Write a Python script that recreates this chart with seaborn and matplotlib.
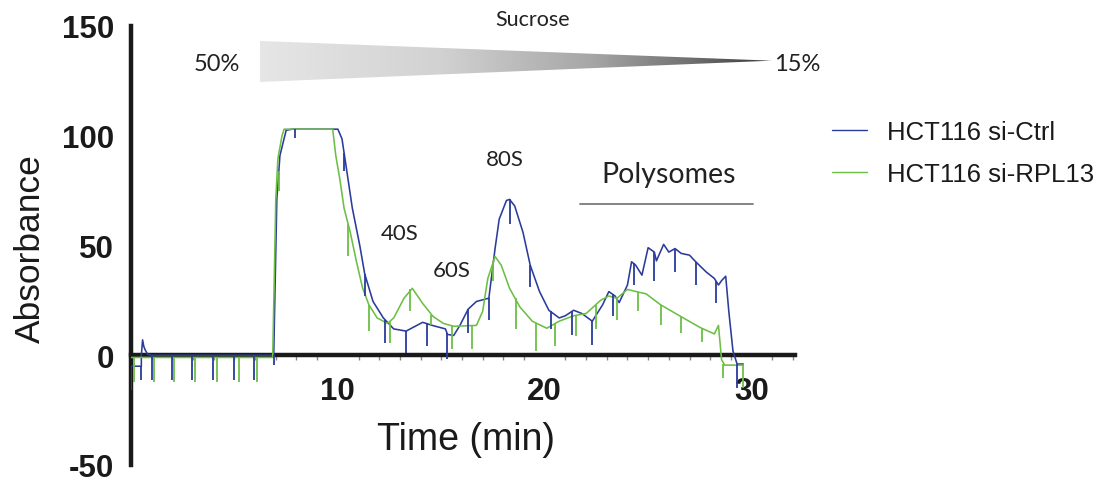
import numpy as np
import pandas as pd
import matplotlib
matplotlib.use("Agg")
import matplotlib.pyplot as plt
import seaborn as sns
from matplotlib.ticker import MultipleLocator, FixedLocator
from matplotlib.colors import LinearSegmentedColormap
from matplotlib.patches import Polygon

# ---------------- data ----------------
series_names = ["HCT116 si-Ctrl", "HCT116 si-RPL13"]

ctrl_time = [0.0, 0.5, 0.5, 0.56, 0.62, 0.68, 0.8, 1.0, 6.9, 7.05, 7.2, 7.5, 7.8,
             10.0, 10.2, 10.4, 10.7, 11.06, 11.3, 11.7, 12.2, 12.7, 13.3, 13.7,
             14.1, 14.6, 15.2, 15.3, 15.6, 15.9, 16.3, 16.7, 17.3, 17.6, 17.8,
             18.15, 18.3, 18.55, 18.95, 19.3, 19.75, 20.2, 20.7, 21.0, 21.4,
             21.8, 22.3, 22.8, 23.1, 23.4, 23.6, 24.0, 24.2, 24.4, 24.7, 25.0,
             25.3, 25.4, 25.75, 26.0, 26.3, 26.6, 27.0, 27.3, 27.8, 28.2, 28.4,
             28.55, 28.75, 28.9, 29.1, 29.3, 29.6]
ctrl_abs = [-5, -5, 0, 7, 4, 2.5, 0.5, 0, 0, 71, 91, 102.5, 103,
            103, 98.6, 86, 67, 50, 37, 24.5, 17, 12, 11, 13,
            15, 13.5, 12, 9.5, 9, 13.6, 21, 24.5, 26, 48.6, 62,
            70.5, 71, 68, 56, 41, 29, 20.5, 17, 18, 20.5,
            19, 15.5, 23, 29, 27, 24, 32, 42.6, 41, 36.5, 49,
            47, 43, 50.5, 47, 48.6, 46.4, 45.6, 42.6, 38, 35, 32,
            34, 36, 20, 2, -4, -4]

rpl_time = [0.0, 6.85, 7.0, 7.1, 7.3, 7.4, 9.75, 9.9, 10.1, 10.3, 10.6, 10.9,
            11.2, 11.5, 11.9, 12.4, 12.7, 13.2, 13.6, 14.1, 14.6, 15.1, 15.6,
            16.7, 17.0, 17.25, 17.6, 17.9, 18.3, 18.8, 19.4, 20.1, 20.7, 21.4,
            22.0, 22.7, 23.1, 23.5, 24.0, 24.6, 24.9, 25.6, 26.7, 27.5, 28.2,
            28.4, 28.55, 28.7, 29.6]
rpl_abs = [-1, -1, 71, 89.5, 100, 103, 103, 91, 80, 67, 56, 42.6,
           30.5, 23, 17, 14.5, 17, 26, 30.5, 23.6, 17.7, 14.5, 13.2,
           13.6, 20, 35, 45, 41, 30.5, 22, 15.5, 12.3, 15.5, 18,
           19, 25, 27, 26, 30, 28.6, 28, 23, 17, 12.7, 9.7,
           13.6, -2, -4.5, -4.5]

# downward detector spikes: time, top, bottom
ctrl_spike_t = [0.0, 0.5, 1.0, 2.0, 2.95, 3.96, 4.97, 5.95, 6.9, 7.95, 10.3, 11.3,
                12.3, 13.3, 14.3, 15.3, 16.3, 17.3, 18.3, 19.3, 20.3, 21.3, 22.3,
                23.3, 24.3, 25.3, 26.3, 27.3, 28.3, 29.3]
ctrl_spike_top = [-5, -5, 0, 0, 0, 0, 0, 0, 0, 103, 92, 37,
                  16, 11, 14.5, 10, 21, 26, 71, 41, 20, 20, 15.5,
                  28, 42, 47, 48.6, 42.6, 34, -4]
ctrl_spike_bot = [-16, -11.5, -11.5, -11.5, -11.5, -11.5, -11.5, -11.5, -4.5, 99, 84, 27,
                  5.5, 1, 4, -1.5, 10, 16, 60, 31, 12, 9, 4.5,
                  17.7, 32, 33.6, 38, 32, 24, -15]

rpl_spike_t = [0.14, 1.1, 2.1, 3.1, 4.15, 5.2, 6.1, 7.15, 10.5, 11.5, 12.5, 13.5,
               14.5, 15.5, 16.5, 17.5, 18.6, 19.6, 20.5, 21.5, 22.5, 23.5, 24.5,
               25.6, 26.6, 27.6, 28.6, 29.6]
rpl_spike_top = [-1, -1, -1, -1, -1, -1, -1, 84, 60, 23, 15, 30,
                 18.5, 13.3, 13.5, 43, 26, 14.5, 14.5, 18, 23, 26, 29,
                 23, 17.5, 12.5, -4, -4.5]
rpl_spike_bot = [-12, -12, -12, -12, -12, -12, -12, 75, 45, 11, 5.5, 20,
                 13.6, 3, 3, 34, 12, 2, 4, 8.6, 12, 16, 20,
                 14, 10, 6, -10.5, -15]

x_ticks = [10, 20, 30]
y_ticks = [-50, 0, 50, 100, 150]

peak_labels = ["40S", "60S", "80S"]
peak_label_t = [13.0, 15.5, 18.07]
peak_label_a = [53, 36, 86.8]

colors = {"HCT116 si-Ctrl": "#2b3b9c", "HCT116 si-RPL13": "#6cbf45"}

# ---------------- figure ----------------
sns.set_theme(style="white")
plt.rcParams["font.family"] = ["Liberation Sans", "DejaVu Sans"]

fig = plt.figure(figsize=(11.07, 4.81), dpi=100)
ax = fig.add_axes([131 / 1107, 15 / 481, 664 / 1107, 439 / 481])

df = pd.concat([
    pd.DataFrame({"Time": ctrl_time, "Absorbance": ctrl_abs, "Sample": series_names[0]}),
    pd.DataFrame({"Time": rpl_time, "Absorbance": rpl_abs, "Sample": series_names[1]}),
], ignore_index=True)

sns.lineplot(data=df, x="Time", y="Absorbance", hue="Sample", hue_order=series_names,
             palette=colors, estimator=None, sort=False, linewidth=1.15, ax=ax)

ax.vlines(ctrl_spike_t, ctrl_spike_bot, ctrl_spike_top, colors=colors[series_names[0]],
          linewidth=1.3, zorder=2)
ax.vlines(rpl_spike_t, rpl_spike_bot, rpl_spike_top, colors=colors[series_names[1]],
          linewidth=1.3, zorder=2)

# gradient triangle (sucrose gradient)
cmap = LinearSegmentedColormap.from_list(
    "suc", [(0.0, "#e6e6e6"), (0.35, "#d2d2d2"), (0.65, "#a6a6a6"),
            (0.85, "#6e6e6e"), (1.0, "#383838")])
tri_x0, tri_x1 = 6.23, 30.97
tri_top, tri_bot, tri_mid = 143.2, 124.5, 134.2
grad = np.linspace(0, 1, 256).reshape(1, -1)
im = ax.imshow(grad, cmap=cmap, aspect="auto",
               extent=(tri_x0, tri_x1, tri_bot, tri_top), zorder=1)
tri = Polygon([(tri_x0, tri_top), (tri_x0, tri_bot), (tri_x1, tri_mid)], closed=True,
              facecolor="none", edgecolor="none", transform=ax.transData)
ax.add_patch(tri)
im.set_clip_path(tri)

ann_font = ["Lato", "DejaVu Sans"]
ax.text(19.4, 150.5, "Sucrose", ha="center", va="baseline", fontsize=15.5,
        family=ann_font, color="#222222", clip_on=False)
ax.text(4.15, 130, "50%", ha="center", va="baseline", fontsize=17,
        family=ann_font, color="#222222")
ax.text(32.2, 130, "15%", ha="center", va="baseline", fontsize=17,
        family=ann_font, color="#222222", clip_on=False)

for lab, t, a in zip(peak_labels, peak_label_t, peak_label_a):
    ax.text(t, a, lab, ha="center", va="baseline", fontsize=16, family=ann_font,
            color="#222222")
ax.text(26.0, 79, "Polysomes", ha="center", va="baseline", fontsize=20.5,
        family=ann_font, color="#222222")
ax.plot([21.7, 30.05], [69, 69], color="#7a7a7a", linewidth=1.3)

# axes styling
ax.set_xlim(0, 32.1)
ax.set_ylim(-50, 150)
for s in ["top", "right"]:
    ax.spines[s].set_visible(False)
ax.spines["bottom"].set_position(("data", 0))
for s in ["left", "bottom"]:
    ax.spines[s].set_linewidth(3.2)
    ax.spines[s].set_color("#1a1a1a")
    ax.spines[s].set_zorder(1.5)

ax.xaxis.set_major_locator(FixedLocator(x_ticks))
ax.xaxis.set_minor_locator(MultipleLocator(1))
ax.yaxis.set_major_locator(FixedLocator(y_ticks))
ax.set_yticklabels([str(v) for v in y_ticks])
ax.set_xticklabels([str(v) for v in x_ticks])
ax.tick_params(axis="both", which="major", direction="out", length=9, width=3,
               color="#1a1a1a", labelsize=22.5, labelcolor="#1a1a1a")
ax.tick_params(axis="x", which="major", pad=6)
ax.tick_params(axis="y", which="major", pad=3)
ax.tick_params(axis="x", which="minor", direction="out", length=3.5, width=1,
               color="#888888", bottom=True)
for lab in ax.get_xticklabels() + ax.get_yticklabels():
    lab.set_fontweight("bold")

ax.set_xlabel("Time (min)", fontsize=27, color="#1a1a1a")
ax.set_ylabel("Absorbance", fontsize=25.5, color="#1a1a1a")
ax.xaxis.set_label_coords(0.505, 0.10)
ax.yaxis.set_label_coords(-0.127, 0.495)

handles, labels = ax.get_legend_handles_labels()
leg = ax.legend(handles, labels, loc="upper left", bbox_to_anchor=(832 / 1107, 1 - 121 / 481),
                bbox_transform=fig.transFigure, frameon=False, fontsize=18.5,
                handlelength=1.36, handletextpad=0.78, labelspacing=0.7,
                borderpad=0, borderaxespad=0)
for line in leg.get_lines():
    line.set_linewidth(1.0)
for txt in leg.get_texts():
    txt.set_color("#1a1a1a")

fig.savefig("out.png", dpi=100)
